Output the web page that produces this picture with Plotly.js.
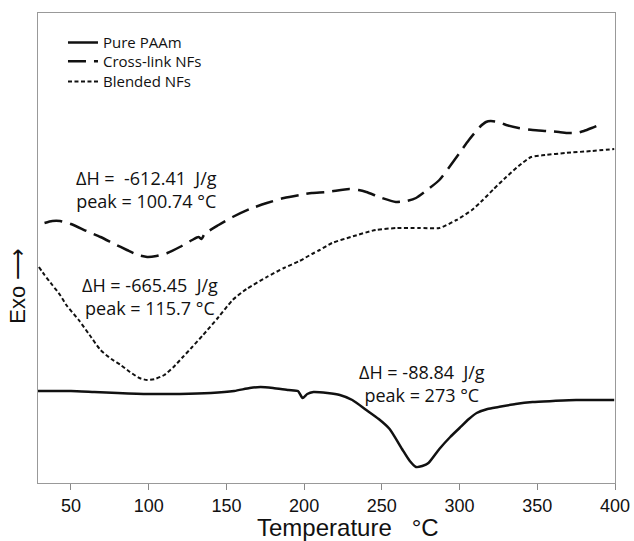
<!DOCTYPE html>
<html>
<head>
<meta charset="utf-8">
<script src="https://cdn.plot.ly/plotly-3.0.1.min.js"></script>
<style>html,body{margin:0;padding:0;background:#fff;}#chart{width:634px;height:541px;}</style>
</head>
<body>
<div id="chart"></div>
<script>
// Pure PAAm (solid)
const pureT = [28.8,40,50,65,80,100,120,140,155,165,172,180,190,196,199,202,206,215,223,231,240,248,255,263,268,272,276,280,287,294,300,306,311,318,325,336,347,360,375,399.5];
const pureY = [92,92,92,91,90,89,89,90,92,95,96,95,93,92,85,89,91,90,88,83,73,64,54,34,22,16,17,20,34,46,55,64,70,74,76,79,81,82,83,83];
// Cross-link NFs (long dash)
const crossT = [33,38,43,50,60,69,78,86,93,99,105,112,120,128,132,134,136,145,154,165,176,187,197,205,215,229,235,240,250,259,266,272,280,287,293,300,306,313,317,320,325,330,338,347,356,364,370,375,380,385,391];
const crossY = [260,262,262,259,252,246,239,233,228,226,227,230,236,243,246,244,249,258,266,274,280,285,288,290,291,294,293,291,285,281,282,285,294,303,315,330,343,356,361,362,361,358,355,353,352,351,350,350,352,355,359];
// Blended NFs (short dash)
const blendT = [29.4,33,38,43,47,55,62,69,76,82,88,94,99,104,110,116,122,128,135,145,154,163,176,187,197,205,210,218,230,246,260,274,287,298,308,315,322,330,338,346,355,368,385,399.5];
const blendY = [216,208,198,188,178,163,148,133,124,118,111,105,103,104,108,116,126,136,148,166,183,194,206,215,222,229,233,240,246,253,255,255,255,263,273,283,294,306,317,326,328,330,332,334];

const seriesNames = ['Pure PAAm','Cross-link NFs','Blended NFs'];
const xTicks = [50,100,150,200,250,300,350,400];
const xTitle = 'Temperature&nbsp;&nbsp; °C';
const yTitle = 'Exo ⟶';
const notes = [
  {x:98.3, y:294, text:'ΔH =&nbsp; -612.41&nbsp; J/g<br>peak = 100.74 °C'},
  {x:100.8, y:187, text:'ΔH = -665.45&nbsp; J/g<br>peak = 115.7 °C'},
  {x:275.9, y:100, text:'ΔH = -88.84&nbsp; J/g<br>peak = 273 °C'}
];

const ink = '#111';
const traces = [
  {x:pureT, y:pureY, name:seriesNames[0], legend:'legend', mode:'lines', line:{color:ink, width:2.5, shape:'spline', smoothing:0.6}},
  {x:crossT, y:crossY, name:seriesNames[1], legend:'legend2', mode:'lines', line:{color:ink, width:2.5, dash:'18px,8px', shape:'spline', smoothing:0.6}},
  {x:blendT, y:blendY, name:seriesNames[2], legend:'legend3', mode:'lines', line:{color:ink, width:2, dash:'4px,2.5px', shape:'spline', smoothing:0.6}}
];

const sansFont = 'Open Sans, Noto Sans, sans-serif';
const arialFont = 'Liberation Sans, Arial, sans-serif';
const annFont = {family:sansFont, size:18, color:ink};
const annotations = notes.map(n => ({x:n.x, y:n.y, xref:'x', yref:'y', text:n.text, showarrow:false, font:annFont, align:'center'}));
annotations.push({xref:'paper', yref:'paper', x:-0.062, y:0.419, text:yTitle, textangle:-90, showarrow:false,
  font:{family:arialFont, size:22, color:ink}});
annotations.push({xref:'paper', yref:'paper', x:0.537, y:-0.094, yanchor:'middle', text:xTitle, showarrow:false,
  font:{family:arialFont, size:24, color:ink}});

function leg(y){
  return {x:0.0433, y:y, xanchor:'left', yanchor:'top', bgcolor:'rgba(0,0,0,0)',
    font:{family:sansFont, size:15, color:ink}, itemwidth:30};
}

const layout = {
  width:634, height:541,
  margin:{l:38, r:19, t:13, b:58},
  paper_bgcolor:'#fff', plot_bgcolor:'#fff',
  showlegend:true,
  legend:leg(0.972), legend2:leg(0.932), legend3:leg(0.889),
  xaxis:{range:[28.8,400], tickvals:xTicks, ticktext:xTicks.map(String), ticks:'outside', ticklen:6, tickcolor:'#888',
    showline:true, linecolor:'#999', linewidth:1, mirror:true, showgrid:false, zeroline:false,
    tickfont:{family:arialFont, size:18, color:ink}},
  yaxis:{range:[0,470], showticklabels:false, ticks:'', showline:true, linecolor:'#999', linewidth:1, mirror:true, showgrid:false, zeroline:false},
  annotations:annotations
};
Plotly.newPlot('chart', traces, layout, {staticPlot:true, displayModeBar:false});
</script>
</body>
</html>
